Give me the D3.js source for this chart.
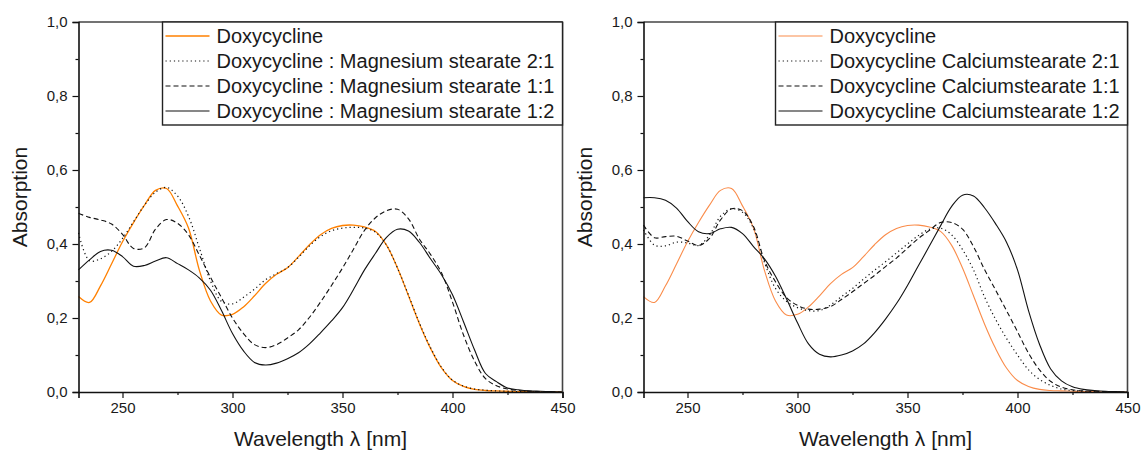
<!DOCTYPE html>
<html>
<head>
<meta charset="utf-8">
<script src="https://cdn.jsdelivr.net/npm/d3@7"></script>
<style>
  body { margin: 0; background: #fff; }
  svg { display: block; }
  text { font-family: "Liberation Sans", Arial, sans-serif; fill: #1a1a1a; }
</style>
</head>
<body>
<svg id="chart" width="1141" height="450"></svg>
<script>
// ---- Data ----
const wavelength = [230,235,240,245,250,255,260,265,270,275,280,285,290,295,300,305,310,315,320,325,330,335,340,345,350,355,360,365,370,375,380,385,390,395,400,405,410,415,420,425,430,435,440,445,450];

const doxycycline = [0.258,0.242,0.287,0.346,0.406,0.458,0.505,0.545,0.550,0.503,0.443,0.328,0.246,0.208,0.210,0.230,0.260,0.293,0.318,0.336,0.366,0.398,0.425,0.442,0.450,0.451,0.446,0.434,0.397,0.335,0.260,0.184,0.118,0.065,0.031,0.015,0.007,0.004,0.003,0.002,0.001,0.001,0,0,0];

const mgRatio21 = [0.430,0.355,0.360,0.380,0.415,0.460,0.505,0.540,0.553,0.530,0.475,0.388,0.300,0.245,0.238,0.256,0.278,0.303,0.320,0.336,0.364,0.395,0.420,0.436,0.443,0.445,0.443,0.432,0.397,0.335,0.262,0.186,0.120,0.067,0.032,0.016,0.008,0.005,0.003,0.002,0.001,0.001,0,0,0];
const mgRatio11 = [0.483,0.472,0.465,0.454,0.426,0.388,0.390,0.440,0.466,0.456,0.425,0.369,0.310,0.255,0.200,0.158,0.128,0.120,0.128,0.146,0.168,0.202,0.243,0.288,0.335,0.386,0.437,0.471,0.490,0.494,0.468,0.413,0.372,0.322,0.243,0.154,0.084,0.036,0.017,0.008,0.004,0.002,0.001,0,0];
const mgRatio12 = [0.330,0.357,0.380,0.383,0.366,0.340,0.342,0.354,0.363,0.347,0.330,0.308,0.275,0.220,0.158,0.111,0.080,0.073,0.078,0.090,0.106,0.130,0.160,0.192,0.228,0.277,0.330,0.375,0.418,0.440,0.435,0.404,0.360,0.317,0.263,0.190,0.114,0.050,0.028,0.011,0.006,0.003,0.002,0.001,0];

const caRatio21 = [0.438,0.397,0.395,0.405,0.403,0.396,0.424,0.475,0.495,0.486,0.442,0.350,0.280,0.245,0.228,0.220,0.220,0.235,0.258,0.280,0.305,0.329,0.352,0.376,0.400,0.423,0.440,0.443,0.425,0.385,0.330,0.257,0.197,0.145,0.100,0.060,0.034,0.018,0.008,0.004,0.002,0.001,0,0,0];
const caRatio11 = [0.451,0.417,0.420,0.421,0.408,0.396,0.415,0.465,0.495,0.490,0.447,0.355,0.298,0.255,0.234,0.224,0.224,0.231,0.250,0.271,0.293,0.315,0.339,0.362,0.389,0.415,0.437,0.458,0.458,0.440,0.393,0.331,0.276,0.220,0.163,0.105,0.060,0.029,0.013,0.006,0.003,0.002,0.001,0,0];
const caRatio12 = [0.525,0.525,0.518,0.497,0.461,0.433,0.428,0.441,0.445,0.428,0.393,0.360,0.313,0.252,0.187,0.130,0.102,0.095,0.100,0.111,0.130,0.160,0.197,0.239,0.288,0.342,0.395,0.449,0.501,0.532,0.530,0.498,0.455,0.405,0.330,0.220,0.129,0.063,0.030,0.014,0.007,0.004,0.002,0.001,0];

const leftLabels = ["Doxycycline", "Doxycycline : Magnesium stearate 2:1", "Doxycycline : Magnesium stearate 1:1", "Doxycycline : Magnesium stearate 1:2"];
const rightLabels = ["Doxycycline", "Doxycycline Calciumstearate 2:1", "Doxycycline Calciumstearate 1:1", "Doxycycline Calciumstearate 1:2"];

const xMajorTicks = [250, 300, 350, 400, 450];
const xMinorTicks = [275, 325, 375, 425];
const yMajorTicks = [0, 0.2, 0.4, 0.6, 0.8, 1.0];
const yMinorTicks = [0.1, 0.3, 0.5, 0.7, 0.9];

const xTitle = "Wavelength λ [nm]";
const yTitle = "Absorption";

// ---- Drawing ----
const svg = d3.select("#chart");
const fmt = d => d3.format(".1f")(d).replace(".", ",");

const styles = [
  {dash: null, width: 1.3},
  {dash: "1.2,3", width: 1.2},
  {dash: "5,3", width: 1.1},
  {dash: null, width: 1.1}
];

function panel(cfg) {
  const x = d3.scaleLinear().domain([230, 450]).range([cfg.x0, cfg.x1]);
  const y = d3.scaleLinear().domain([0, 1]).range([392, 22]);
  const g = svg.append("g");

  // series
  const series = [doxycycline].concat(cfg.series);
  const line = d3.line()
    .x((d, i) => x(wavelength[i]))
    .y(d => y(d))
    .curve(d3.curveCatmullRom.alpha(0.5));
  series.forEach((vals, k) => {
    g.append("path")
      .attr("d", line(vals))
      .attr("fill", "none")
      .attr("stroke", k === 0 ? cfg.orange : "#111")
      .attr("stroke-width", k === 0 ? cfg.orangeWidth : styles[k].width)
      .attr("stroke-dasharray", styles[k].dash);
  });

  // frame (top/right)
  g.append("line").attr("x1", cfg.x0).attr("x2", cfg.x1).attr("y1", 22).attr("y2", 22)
    .attr("stroke", "#444").attr("stroke-width", 1.6);
  g.append("line").attr("x1", cfg.x1).attr("x2", cfg.x1).attr("y1", 22).attr("y2", 392)
    .attr("stroke", "#444").attr("stroke-width", 1.6);

  // x axis
  const xAxis = d3.axisBottom(x).tickValues(xMajorTicks).tickSize(6).tickPadding(4).tickFormat(d3.format("d"));
  const gx = g.append("g").attr("transform", "translate(0,392)").call(xAxis);
  gx.select(".domain").attr("stroke", "#111").attr("stroke-width", 1.6);
  gx.selectAll(".tick line").attr("stroke", "#111").attr("stroke-width", 1.2);
  gx.selectAll(".tick text").attr("font-size", 15).attr("font-family", "Liberation Sans, Arial, sans-serif").attr("fill", "#1a1a1a");
  const xMinor = d3.axisBottom(x).tickValues(xMinorTicks).tickSize(3).tickFormat("");
  const gxm = g.append("g").attr("transform", "translate(0,392)").call(xMinor);
  gxm.select(".domain").remove();
  gxm.selectAll(".tick line").attr("stroke", "#111").attr("stroke-width", 1.2);

  // y axis
  const yAxis = d3.axisLeft(y).tickValues(yMajorTicks).tickSize(6).tickPadding(5).tickFormat(fmt);
  const gy = g.append("g").attr("transform", `translate(${cfg.x0},0)`).call(yAxis);
  gy.select(".domain").attr("stroke", "#111").attr("stroke-width", 1.6);
  gy.selectAll(".tick line").attr("stroke", "#111").attr("stroke-width", 1.2);
  gy.selectAll(".tick text").attr("font-size", 15).attr("font-family", "Liberation Sans, Arial, sans-serif").attr("fill", "#1a1a1a");
  const yMinor = d3.axisLeft(y).tickValues(yMinorTicks).tickSize(3).tickFormat("");
  const gym = g.append("g").attr("transform", `translate(${cfg.x0},0)`).call(yMinor);
  gym.select(".domain").remove();
  gym.selectAll(".tick line").attr("stroke", "#111").attr("stroke-width", 1.2);

  // titles
  g.append("text").attr("x", (cfg.x0 + cfg.x1) / 2).attr("y", 446)
    .attr("text-anchor", "middle").attr("font-size", 21).text(xTitle);
  g.append("text").attr("transform", `translate(${cfg.x0 - 52},197) rotate(-90)`)
    .attr("text-anchor", "middle").attr("font-size", 21).text(yTitle);

  // legend
  const lg = g.append("g");
  lg.append("rect").attr("x", cfg.lx).attr("y", 22).attr("width", cfg.x1 - cfg.lx).attr("height", 103)
    .attr("fill", "#fff").attr("stroke", "#222").attr("stroke-width", 1.4);
  cfg.labels.forEach((lab, k) => {
    const cy = 36 + k * 25;
    lg.append("line").attr("x1", cfg.lx + 3).attr("x2", cfg.lx + 47).attr("y1", cy).attr("y2", cy)
      .attr("stroke", k === 0 ? cfg.orange : "#111")
      .attr("stroke-width", k === 0 ? cfg.orangeWidth : styles[k].width)
      .attr("stroke-dasharray", styles[k].dash);
    lg.append("text").attr("x", cfg.lx + 54).attr("y", cy + 7).attr("font-size", 20).text(lab);
  });
}

panel({x0: 78.5, x1: 562.5, lx: 162.5, series: [mgRatio21, mgRatio11, mgRatio12], labels: leftLabels, orange: "#ff8000", orangeWidth: 1.3});
panel({x0: 643.5, x1: 1127.5, lx: 775.5, series: [caRatio21, caRatio11, caRatio12], labels: rightLabels, orange: "#fa8c4a", orangeWidth: 1.1});
</script>
</body>
</html>
